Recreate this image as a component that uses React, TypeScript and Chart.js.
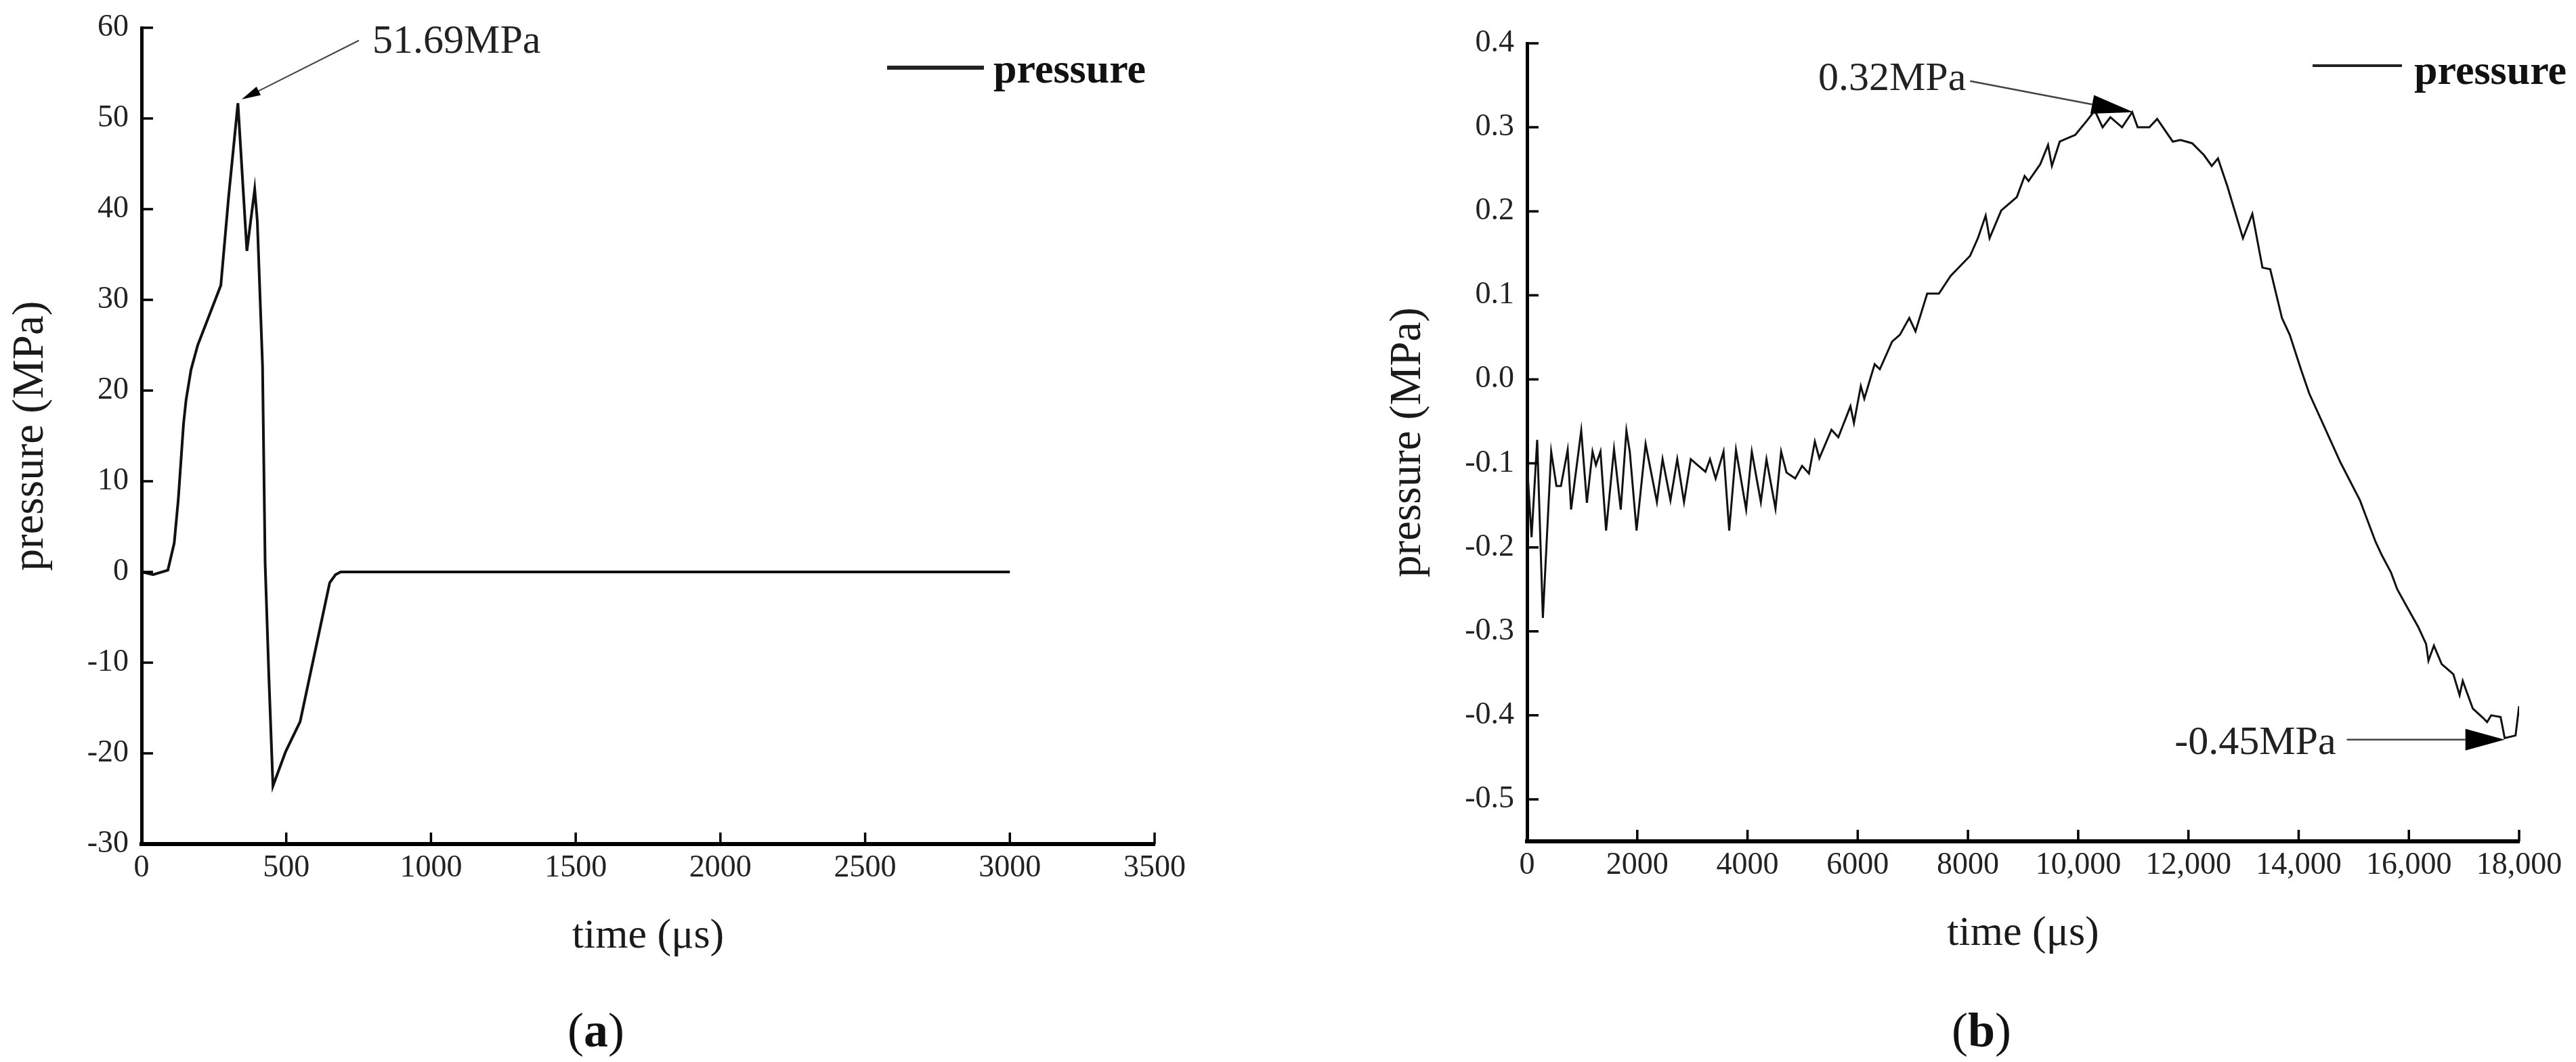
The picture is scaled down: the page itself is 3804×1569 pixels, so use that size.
import React, { useEffect, useRef } from "react";
import { Chart, registerables } from "chart.js";

Chart.register(...registerables);

// ---------- DATA ----------
const SERIES_LABEL = "pressure";
const X_TITLE = "time (μs)";
const Y_TITLE = "pressure (MPa)";

// Panel (a)
const TIME_A = [0, 40, 91, 113, 127, 145, 154, 171, 194, 274, 301, 333, 364, 391, 400, 418, 427, 440, 454, 498, 548, 606, 650, 670, 688, 3000];
const PRESSURE_A = [0, -0.3, 0.2, 3.2, 8, 16.3, 19, 22.3, 25, 31.6, 41.4, 51.69, 35.4, 42.2, 38.7, 22.8, 1, -11.6, -23.6, -19.8, -16.5, -7.8, -1.2, -0.3, 0, 0];
const X_TICKS_A = [0, 500, 1000, 1500, 2000, 2500, 3000, 3500];
const Y_TICKS_A = [-30, -20, -10, 0, 10, 20, 30, 40, 50, 60];

// Panel (b)
const TIME_B = [
  0, 82, 184, 287, 438, 533, 615, 737, 799, 983, 1086, 1188, 1250, 1332, 1434, 1578, 1700, 1803, 1864, 1987,
  2151, 2356, 2459, 2602, 2725, 2848, 2971, 3094, 3237, 3319, 3422, 3565, 3668, 3791, 3975, 4078, 4242, 4344,
  4508, 4610, 4708, 4865, 4990, 5115, 5222, 5303, 5523, 5648, 5868, 5931, 6056, 6119, 6307, 6401, 6624, 6765,
  6935, 7048, 7260, 7473, 7685, 8038, 8180, 8321, 8392, 8604, 8887, 9028, 9099, 9311, 9453, 9523, 9665, 9806,
  9947, 10160, 10301, 10443, 10584, 10796, 10980, 11079, 11291, 11433, 11716, 11857, 12069, 12281, 12423,
  12536, 12706, 12989, 13160, 13343, 13484, 13697, 13838, 14051, 14193, 14476, 14759, 15112, 15393, 15506,
  15676, 15789, 15958, 16171, 16312, 16355, 16454, 16595, 16807, 16920, 16977, 17160, 17345, 17419, 17493,
  17664, 17738, 17935, 18000,
];
const PRESSURE_B = [
  -0.1, -0.188, -0.072, -0.284, -0.086, -0.127, -0.127, -0.084, -0.155, -0.061, -0.147, -0.086, -0.102, -0.086,
  -0.18, -0.083, -0.155, -0.061, -0.086, -0.18, -0.077, -0.146, -0.095, -0.144, -0.095, -0.146, -0.095, -0.102,
  -0.11, -0.095, -0.118, -0.086, -0.18, -0.084, -0.155, -0.086, -0.146, -0.095, -0.154, -0.086, -0.111, -0.118,
  -0.103, -0.112, -0.074, -0.094, -0.06, -0.069, -0.032, -0.052, -0.008, -0.023, 0.018, 0.012, 0.045, 0.053,
  0.073, 0.057, 0.102, 0.102, 0.123, 0.147, 0.168, 0.195, 0.168, 0.201, 0.217, 0.242, 0.236, 0.256, 0.279,
  0.254, 0.283, 0.287, 0.291, 0.308, 0.32, 0.3, 0.312, 0.3, 0.318, 0.3, 0.3, 0.31, 0.283, 0.285, 0.281, 0.267,
  0.254, 0.263, 0.23, 0.168, 0.197, 0.133, 0.131, 0.073, 0.053, 0.01, -0.017, -0.058, -0.099, -0.144, -0.193,
  -0.209, -0.23, -0.25, -0.27, -0.295, -0.315, -0.335, -0.317, -0.339, -0.351, -0.376, -0.359, -0.392, -0.403,
  -0.408, -0.4, -0.402, -0.427, -0.424, -0.389,
];
const X_TICKS_B = [0, 2000, 4000, 6000, 8000, 10000, 12000, 14000, 16000, 18000];
const X_TICK_LABELS_B = ["0", "2000", "4000", "6000", "8000", "10,000", "12,000", "14,000", "16,000", "18,000"];
const Y_TICKS_B = [-0.5, -0.4, -0.3, -0.2, -0.1, 0, 0.1, 0.2, 0.3, 0.4];

// Annotations (data coordinates)
const NOTES_A = [
  { text: "51.69MPa", at: [798, 58.4], align: "left", from: [751, 58.6], tip: [346, 52.1], head: [28, 14], lw: 2 },
];
const NOTES_B = [
  { text: "0.32MPa", at: [7966, 0.357], align: "right", from: [8039, 0.355], tip: [11002, 0.318], head: [62, 28], lw: 2.5 },
  { text: "-0.45MPa", at: [14677, -0.433], align: "right", from: [14874, -0.429], tip: [17738, -0.429], head: [58, 32], lw: 2.5 },
];

// ---------- DRAWING ----------
const SERIF = "'Liberation Serif', 'Times New Roman', serif";

const decorPlugin = {
  id: "decor",
  afterDraw(chart: any, _args: any, opts: any) {
    const ctx = chart.ctx;
    const xs = chart.scales.x;
    const ys = chart.scales.y;
    const ca = chart.chartArea;
    ctx.save();
    // inward tick marks
    ctx.strokeStyle = "#000";
    ctx.lineWidth = opts.tickWidth;
    ctx.beginPath();
    xs.ticks.forEach((t: any) => {
      const px = xs.getPixelForValue(t.value);
      ctx.moveTo(px, ca.bottom);
      ctx.lineTo(px, ca.bottom - opts.tickLen);
    });
    ys.ticks.forEach((t: any) => {
      const py = ys.getPixelForValue(t.value);
      ctx.moveTo(ca.left, py);
      ctx.lineTo(ca.left + opts.tickLen, py);
    });
    ctx.stroke();

    // legend
    const lg = opts.legend;
    ctx.strokeStyle = "#222";
    ctx.lineWidth = lg.lineWidth;
    ctx.beginPath();
    ctx.moveTo(lg.x1, lg.y);
    ctx.lineTo(lg.x2, lg.y);
    ctx.stroke();
    ctx.fillStyle = "#111";
    ctx.font = `bold 62px ${SERIF}`;
    ctx.textAlign = "left";
    ctx.textBaseline = "alphabetic";
    ctx.fillText(chart.data.datasets[0].label, lg.textX, lg.baseline);

    // annotations with arrows
    opts.notes.forEach((n: any) => {
      const fx = xs.getPixelForValue(n.from[0]);
      const fy = ys.getPixelForValue(n.from[1]);
      const tx = xs.getPixelForValue(n.tip[0]);
      const ty = ys.getPixelForValue(n.tip[1]);
      const ang = Math.atan2(ty - fy, tx - fx);
      const [hl, hw] = n.head;
      const bx = tx - Math.cos(ang) * hl;
      const by = ty - Math.sin(ang) * hl;
      ctx.strokeStyle = "#444";
      ctx.lineWidth = n.lw;
      ctx.beginPath();
      ctx.moveTo(fx, fy);
      ctx.lineTo(bx, by);
      ctx.stroke();
      ctx.fillStyle = "#000";
      ctx.beginPath();
      ctx.moveTo(tx, ty);
      ctx.lineTo(bx + Math.sin(ang) * hw / 2, by - Math.cos(ang) * hw / 2);
      ctx.lineTo(bx - Math.sin(ang) * hw / 2, by + Math.cos(ang) * hw / 2);
      ctx.closePath();
      ctx.fill();
      ctx.fillStyle = "#222";
      ctx.font = `60px ${SERIF}`;
      ctx.textAlign = n.align;
      ctx.textBaseline = "middle";
      ctx.fillText(n.text, xs.getPixelForValue(n.at[0]), ys.getPixelForValue(n.at[1]));
    });
    ctx.restore();
  },
};

function makeConfig(p: any) {
  return {
    type: "line",
    data: {
      datasets: [
        {
          label: SERIES_LABEL,
          data: p.time.map((t: number, i: number) => ({ x: t, y: p.pressure[i] })),
          borderColor: "#111",
          borderWidth: p.lineWidth,
          pointRadius: 0,
          tension: 0,
          fill: false,
        },
      ],
    },
    options: {
      animation: false,
      responsive: false,
      devicePixelRatio: 1,
      layout: { padding: p.padding },
      plugins: {
        legend: { display: false },
        tooltip: { enabled: false },
        decor: { tickLen: 17, tickWidth: 3.5, legend: p.legend, notes: p.notes },
      },
      scales: {
        x: {
          type: "linear",
          min: p.xMin,
          max: p.xMax,
          grid: { display: false, drawTicks: false },
          border: { display: true, color: "#000", width: 6 },
          afterBuildTicks: (s: any) => {
            s.ticks = p.xTicks.map((v: number) => ({ value: v }));
          },
          afterFit: (s: any) => {
            s.height = p.xHeight;
            s.paddingLeft = 0;
            s.paddingRight = 0;
          },
          ticks: {
            autoSkip: false,
            minRotation: 0,
            maxRotation: 0,
            padding: 8,
            color: "#222",
            font: { family: SERIF, size: 46 },
            callback: (_v: any, i: number) => p.xLabels[i],
          },
          title: {
            display: true,
            text: X_TITLE,
            color: "#1a1a1a",
            font: { family: SERIF, size: 62 },
            padding: { top: 0, bottom: p.xTitlePad },
          },
        },
        y: {
          type: "linear",
          min: p.yMin,
          max: p.yMax,
          grid: { display: false, drawTicks: false },
          border: { display: true, color: "#000", width: 5 },
          afterBuildTicks: (s: any) => {
            s.ticks = p.yTicks.map((v: number) => ({ value: v }));
          },
          afterFit: (s: any) => {
            s.width = p.yWidth;
            s.paddingTop = 0;
            s.paddingBottom = 0;
          },
          ticks: {
            autoSkip: false,
            padding: 19,
            color: "#222",
            font: { family: SERIF, size: 46 },
            callback: (_v: any, i: number) => p.yLabels[i],
          },
          title: {
            display: true,
            text: Y_TITLE,
            color: "#1a1a1a",
            font: { family: SERIF, size: 65 },
            padding: { top: p.yTitlePad, bottom: 0 },
          },
        },
      },
    },
    plugins: [decorPlugin],
  };
}

const CONFIG_A = {
  time: TIME_A,
  pressure: PRESSURE_A,
  lineWidth: 4,
  padding: { left: 0, top: 41, right: 195, bottom: 0 },
  xMin: 0,
  xMax: 3500,
  yMin: -30,
  yMax: 60,
  xTicks: X_TICKS_A,
  xLabels: X_TICKS_A.map((v) => String(v)),
  yTicks: Y_TICKS_A,
  yLabels: Y_TICKS_A.map((v) => String(v)),
  xHeight: 322,
  yWidth: 209,
  xTitlePad: 148,
  yTitlePad: 7,
  legend: { x1: 1310, x2: 1453, y: 100, lineWidth: 6, textX: 1467, baseline: 122 },
  notes: NOTES_A,
};

const CONFIG_B = {
  time: TIME_B,
  pressure: PRESSURE_B,
  lineWidth: 3,
  padding: { left: 0, top: 64, right: 84, bottom: 0 },
  xMin: 0,
  xMax: 18000,
  yMin: -0.55,
  yMax: 0.4,
  xTicks: X_TICKS_B,
  xLabels: X_TICK_LABELS_B,
  yTicks: Y_TICKS_B,
  yLabels: Y_TICKS_B.map((v) => v.toFixed(1)),
  xHeight: 326,
  yWidth: 355,
  xTitlePad: 152,
  yTitlePad: 141,
  legend: { x1: 1515, x2: 1647, y: 97, lineWidth: 4, textX: 1665, baseline: 124 },
  notes: NOTES_B,
};

function Panel({ cfg, left, width }: { cfg: any; left: number; width: number }) {
  const ref = useRef<HTMLCanvasElement | null>(null);
  useEffect(() => {
    if (!ref.current) return;
    const chart = new Chart(ref.current, makeConfig(cfg) as any);
    return () => chart.destroy();
  }, []);
  return (
    <canvas
      ref={ref}
      width={width}
      height={1569}
      style={{ position: "absolute", left, top: 0, width, height: 1569 }}
    />
  );
}

const captionStyle = (cx: number): React.CSSProperties => ({
  position: "absolute",
  left: cx - 100,
  width: 200,
  top: 1480,
  height: 84,
  lineHeight: "84px",
  fontSize: 72,
  fontFamily: SERIF,
  color: "#111",
  textAlign: "center",
});

export default function App() {
  return (
    <div
      style={{
        position: "absolute",
        left: 0,
        top: 0,
        width: 3804,
        height: 1569,
        background: "#fff",
        overflow: "hidden",
      }}
    >
      <Panel cfg={CONFIG_A} left={0} width={1900} />
      <Panel cfg={CONFIG_B} left={1900} width={1904} />
      <div style={captionStyle(880)}>
        (<b>a</b>)
      </div>
      <div style={captionStyle(2926)}>
        (<b>b</b>)
      </div>
    </div>
  );
}
